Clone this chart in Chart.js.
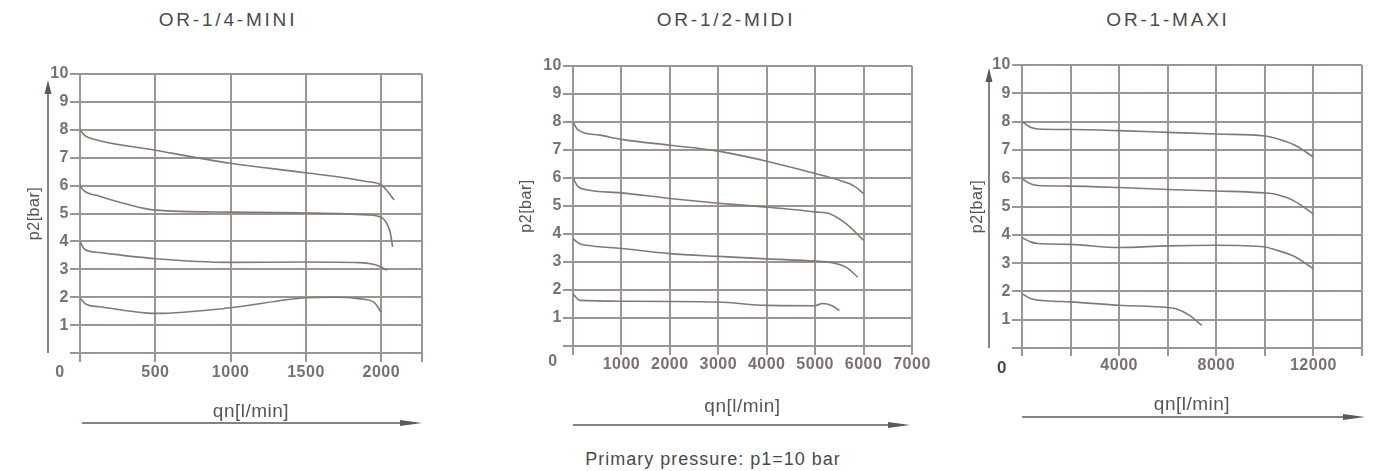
<!DOCTYPE html>
<html>
<head>
<meta charset="utf-8">
<script src="https://cdn.jsdelivr.net/npm/chart.js@4.4.1/dist/chart.umd.min.js"></script>
<style>
  body { margin: 0; background: #fff; width: 1375px; height: 471px; overflow: hidden; position: relative;
         font-family: "Liberation Sans", Arial, sans-serif; }
  canvas { position: absolute; top: 0; }
  .title { position: absolute; top: 8px; width: 300px; text-align: center; font-size: 19px; line-height: 24px;
           letter-spacing: 2.8px; color: #4a4a4a; }
  .caption { position: absolute; top: 447px; left: 563px; width: 300px; text-align: center; font-size: 18px;
             line-height: 24px; letter-spacing: 1px; color: #4a4a4a; }
</style>
</head>
<body>
<div class="title" style="left:78px">OR-1/4-MINI</div>
<div class="title" style="left:576px">OR-1/2-MIDI</div>
<div class="title" style="left:1018px">OR-1-MAXI</div>
<canvas id="mini" width="445" height="440" style="left:0px"></canvas>
<canvas id="midi" width="440" height="440" style="left:490px"></canvas>
<canvas id="maxi" width="430" height="440" style="left:945px"></canvas>
<div class="caption">Primary pressure: p1=10 bar</div>

<script>
// p2 axis, shared by all three charts
const yGrid = [0, 1, 2, 3, 4, 5, 6, 7, 8, 9, 10];
const yLabels = [1, 2, 3, 4, 5, 6, 7, 8, 9, 10];

// OR-1/4-MINI  [qn, p2]
const miniXGrid = [0, 500, 1000, 1500, 2000, 2270];
const miniXLabels = [500, 1000, 1500, 2000];
const mini8 = [[0, 8.0], [30, 7.8], [70, 7.7], [500, 7.27], [1000, 6.8], [1500, 6.46], [1900, 6.15], [2000, 6.02], [2040, 5.8], [2085, 5.48]];
const mini6 = [[0, 6.0], [25, 5.82], [130, 5.62], [300, 5.35], [500, 5.12], [1000, 5.05], [1500, 5.02], [1900, 4.95], [2000, 4.86], [2040, 4.6], [2060, 4.3], [2075, 3.8]];
const mini4 = [[0, 3.98], [30, 3.72], [130, 3.6], [500, 3.38], [1000, 3.25], [1500, 3.26], [1850, 3.24], [1960, 3.16], [2040, 2.97]];
const mini2 = [[0, 1.97], [40, 1.75], [130, 1.66], [450, 1.43], [500, 1.42], [1000, 1.62], [1500, 1.98], [1700, 2.0], [1850, 1.95], [1950, 1.82], [2000, 1.45]];

// OR-1/2-MIDI
const midiXGrid = [0, 1000, 2000, 3000, 4000, 5000, 6000, 7000];
const midiXLabels = [1000, 2000, 3000, 4000, 5000, 6000, 7000];
const midi8 = [[0, 8.0], [100, 7.72], [550, 7.53], [1000, 7.38], [2000, 7.17], [3000, 6.96], [4000, 6.6], [5000, 6.16], [5500, 5.92], [5800, 5.72], [6000, 5.44]];
const midi6 = [[0, 6.0], [100, 5.7], [280, 5.58], [1000, 5.47], [2000, 5.27], [3000, 5.1], [4000, 4.96], [5000, 4.79], [5300, 4.72], [5650, 4.35], [6000, 3.77]];
const midi4 = [[0, 3.83], [140, 3.65], [280, 3.6], [1000, 3.48], [2000, 3.3], [3000, 3.2], [4000, 3.11], [5000, 3.03], [5350, 2.97], [5650, 2.8], [5880, 2.46]];
const midi2 = [[0, 1.86], [140, 1.63], [1000, 1.6], [3000, 1.57], [4000, 1.45], [5000, 1.44], [5150, 1.52], [5350, 1.44], [5500, 1.26]];

// OR-1-MAXI
const maxiXGrid = [0, 2000, 4000, 6000, 8000, 10000, 12000, 14000];
const maxiXLabels = [4000, 8000, 12000];
const maxi8 = [[0, 8.0], [350, 7.8], [650, 7.74], [2000, 7.72], [4000, 7.68], [6000, 7.62], [8000, 7.56], [10000, 7.49], [10400, 7.42], [11200, 7.18], [12000, 6.75]];
const maxi6 = [[0, 5.98], [350, 5.8], [650, 5.74], [2000, 5.72], [4000, 5.67], [6000, 5.6], [8000, 5.55], [10000, 5.48], [10400, 5.44], [11200, 5.2], [12000, 4.73]];
const maxi4 = [[0, 3.9], [350, 3.75], [650, 3.69], [2000, 3.66], [4000, 3.55], [6000, 3.61], [8000, 3.63], [10000, 3.57], [10400, 3.48], [11200, 3.24], [12000, 2.8]];
const maxi2 = [[0, 1.92], [350, 1.75], [1150, 1.66], [2000, 1.63], [4000, 1.51], [6000, 1.43], [6350, 1.39], [6900, 1.15], [7400, 0.8]];

const GRID = '#9d9592';
const CURVE = '#827976';
const INK = '#5e5856';
const TICK = '#777170';

Chart.defaults.font.family = '"Liberation Sans", Arial, sans-serif';
Chart.defaults.color = TICK;

// arrows under/left of the axes plus the corner "0"
const decor = {
  id: 'decor',
  beforeDraw(chart) {
    chart.ctx.letterSpacing = '0.5px';
  },
  afterDraw(chart, args, opts) {
    const { ctx, chartArea: a } = chart;
    ctx.save();
    ctx.strokeStyle = INK;
    ctx.fillStyle = INK;
    ctx.lineWidth = 1.5;

    if (opts.yArrow) {
      const x = a.left + opts.yArrow.dx;
      const tip = a.top + opts.yArrow.dTip;
      ctx.beginPath();
      ctx.moveTo(x, a.bottom);
      ctx.lineTo(x, tip + 10);
      ctx.stroke();
      ctx.beginPath();
      ctx.moveTo(x, tip);
      ctx.lineTo(x - 3.5, tip + 14);
      ctx.lineTo(x + 3.5, tip + 14);
      ctx.closePath();
      ctx.fill();
    }

    const y = a.bottom + opts.xArrow.dy;
    const x1 = a.right + opts.xArrow.dx1;
    ctx.beginPath();
    ctx.moveTo(a.left + opts.xArrow.dx0, y);
    ctx.lineTo(x1 - 14, y);
    ctx.stroke();
    ctx.beginPath();
    ctx.moveTo(x1, y);
    ctx.lineTo(x1 - 22, y - 3);
    ctx.lineTo(x1 - 22, y + 3);
    ctx.closePath();
    ctx.fill();

    const z = opts.zero;
    ctx.font = 'bold ' + z.size + 'px "Liberation Sans", Arial, sans-serif';
    ctx.fillStyle = z.color;
    ctx.textAlign = 'center';
    ctx.textBaseline = 'middle';
    ctx.fillText(String(chart.scales.x.min), a.left + z.dx, a.bottom + z.dy);
    ctx.restore();
  }
};

function curve(points) {
  return {
    data: points.map(([x, y]) => ({ x, y })),
    borderColor: CURVE,
    borderWidth: 1.6,
    pointRadius: 0,
    fill: false,
    cubicInterpolationMode: 'monotone'
  };
}

function makeChart(id, s) {
  return new Chart(document.getElementById(id), {
    type: 'line',
    data: { datasets: s.series.map(curve) },
    plugins: [decor],
    options: {
      responsive: false,
      animation: false,
      events: [],
      layout: { padding: { top: s.padTop, right: s.padRight, left: 0, bottom: 0 } },
      plugins: {
        legend: { display: false },
        tooltip: { enabled: false },
        decor: s.decor
      },
      scales: {
        x: {
          type: 'linear',
          min: 0,
          max: s.xGrid[s.xGrid.length - 1],
          afterBuildTicks: sc => { sc.ticks = s.xGrid.map(v => ({ value: v })); },
          afterFit: sc => { sc.height = s.xHeight; },
          grid: { color: GRID, lineWidth: 2, tickLength: s.xTick },
          border: { display: false },
          ticks: {
            autoSkip: false, maxRotation: 0, padding: s.xPad,
            font: { size: 16, weight: 'bold' },
            callback: v => s.xLabels.includes(v) ? String(v) : ''
          },
          title: {
            display: true, text: 'qn[l/min]', color: '#555',
            font: { size: 19 }, padding: { top: 0, bottom: s.xTitlePad }
          }
        },
        y: {
          type: 'linear',
          min: 0,
          max: 10,
          afterBuildTicks: sc => { sc.ticks = yGrid.map(v => ({ value: v })); },
          afterFit: sc => { sc.width = s.yWidth; },
          grid: { color: GRID, lineWidth: 2, tickLength: 10 },
          border: { display: false },
          ticks: {
            padding: 1,
            font: { size: 16, weight: 'bold' },
            callback: v => yLabels.includes(v) ? String(v) : ''
          },
          title: {
            display: true, text: 'p2[bar]', color: '#555',
            font: { size: 16 }, padding: { top: s.yTitlePad, bottom: 0 }
          }
        }
      }
    }
  });
}

makeChart('mini', {
  series: [mini8, mini6, mini4, mini2],
  xGrid: miniXGrid, xLabels: miniXLabels,
  padTop: 74, padRight: 23, yWidth: 80, xHeight: 87,
  xTick: 9, xPad: 1, xTitlePad: 17, yTitlePad: 25,
  decor: { yArrow: { dx: -32, dTip: 6 }, xArrow: { dy: 70, dx0: 2, dx1: 0 }, zero: { dx: -20, dy: 20, size: 16, color: TICK } }
});

makeChart('midi', {
  series: [midi8, midi6, midi4, midi2],
  xGrid: midiXGrid, xLabels: midiXLabels,
  padTop: 66, padRight: 18, yWidth: 83, xHeight: 94,
  xTick: 9, xPad: 0, xTitlePad: 22, yTitlePad: 27,
  decor: { xArrow: { dy: 79, dx0: 0, dx1: -2 }, zero: { dx: -20, dy: 16, size: 16, color: TICK } }
});

makeChart('maxi', {
  series: [maxi8, maxi6, maxi4, maxi2],
  xGrid: maxiXGrid, xLabels: maxiXLabels,
  padTop: 65, padRight: 13, yWidth: 77, xHeight: 92,
  xTick: 8, xPad: 0, xTitlePad: 24, yTitlePad: 23,
  decor: { yArrow: { dx: -33, dTip: 3 }, xArrow: { dy: 69, dx0: 0, dx1: 3 }, zero: { dx: -20, dy: 20, size: 17, color: '#4a4a4a' } }
});
</script>
</body>
</html>
